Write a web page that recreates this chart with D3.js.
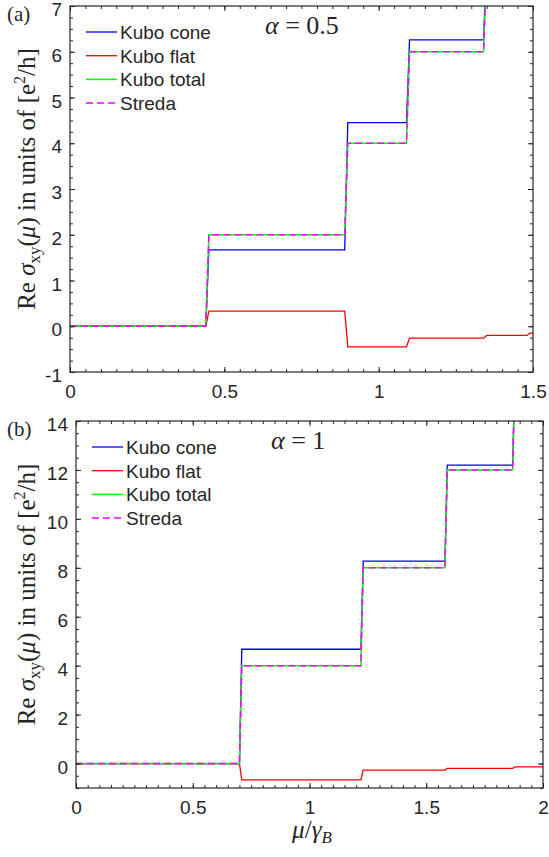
<!DOCTYPE html>
<html>
<head>
<meta charset="utf-8">
<script src="https://cdnjs.cloudflare.com/ajax/libs/d3/7.8.5/d3.min.js"></script>
<style>
  body { margin: 0; background: #fff; }
</style>
</head>
<body>
<div id="chart"></div>
<script>
// legend entries and their colours
var seriesNames = ["Kubo cone", "Kubo flat", "Kubo total", "Streda"];
var seriesColors = ["#0000ff", "#ff0000", "#00ff00", "#ff00ff"];

// panel (a), alpha = 0.5
var muA     = [0, 0.44, 0.45, 0.89, 0.90, 1.09, 1.10, 1.34, 1.35, 1.48, 1.49, 1.5];
var coneA   = [0, 0, 1.67, 1.67, 4.45, 4.45, 6.26, 6.26, 8.2, 8.2, 10.15, 10.15];
var flatA   = [0, 0, 0.33, 0.33, -0.45, -0.45, -0.26, -0.26, -0.2, -0.2, -0.15, -0.15];
var totalA  = [0, 0, 2, 2, 4, 4, 6, 6, 8, 8, 10, 10];
var stredaA = [0, 0, 2, 2, 4, 4, 6, 6, 8, 8, 10, 10];
var xTicksA = [0, 0.5, 1, 1.5];
var yTicksA = [-1, 0, 1, 2, 3, 4, 5, 6, 7];

// panel (b), alpha = 1
var muB     = [0, 0.70, 0.71, 1.22, 1.23, 1.58, 1.59, 1.87, 1.88, 2];
var coneB   = [0, 0, 4.67, 4.67, 8.27, 8.27, 12.2, 12.2, 16.14, 16.14];
var flatB   = [0, 0, -0.67, -0.67, -0.27, -0.27, -0.2, -0.2, -0.14, -0.14];
var totalB  = [0, 0, 4, 4, 8, 8, 12, 12, 16, 16];
var stredaB = [0, 0, 4, 4, 8, 8, 12, 12, 16, 16];
var xTicksB = [0, 0.5, 1, 1.5, 2];
var yTicksB = [0, 2, 4, 6, 8, 10, 12, 14];

var svgWidth = 549;
var svgHeight = 857;
var axisColor = "#262626";
var sansFont = "'Liberation Sans', Arial, Helvetica, sans-serif";
var serifFont = "'Liberation Serif', 'Times New Roman', serif";

var svg = d3.select("#chart")
  .append("svg")
  .attr("width", svgWidth)
  .attr("height", svgHeight)
  .style("color", axisColor);

var panels = [
  { id: "a", tag: "(a)", alpha: "0.5", left: 70, right: 533, top: 6, bottom: 372,
    xDomain: [0, 1.5], yDomain: [-1, 7], xTicks: xTicksA, yTicks: yTicksA,
    xMinor: 0.05, yMinor: 0.25,
    mu: muA, series: [coneA, flatA, totalA, stredaA] },
  { id: "b", tag: "(b)", alpha: "1", left: 76, right: 543, top: 421, bottom: 788,
    xDomain: [0, 2], yDomain: [-1, 14], xTicks: xTicksB, yTicks: yTicksB,
    xMinor: 0.05, yMinor: 0.5,
    mu: muB, series: [coneB, flatB, totalB, stredaB] }
];

panels.forEach(drawPanel);

// x axis label, only under the lower panel
var xl = svg.append("text")
  .attr("x", 312)
  .attr("y", 838)
  .attr("text-anchor", "middle")
  .attr("font-family", serifFont)
  .attr("font-size", 25)
  .attr("fill", axisColor);
xl.append("tspan").attr("font-style", "italic").text("μ");
xl.append("tspan").text("/");
xl.append("tspan").attr("font-style", "italic").text("γ");
xl.append("tspan").attr("font-style", "italic").attr("font-size", 17).attr("dy", 5).text("B");

function drawPanel(p) {
  var g = svg.append("g");

  var x = d3.scaleLinear().domain(p.xDomain).range([p.left, p.right]);
  var y = d3.scaleLinear().domain(p.yDomain).range([p.bottom, p.top]);

  g.append("clipPath")
    .attr("id", "clip-" + p.id)
    .append("rect")
    .attr("x", p.left)
    .attr("y", p.top)
    .attr("width", p.right - p.left)
    .attr("height", p.bottom - p.top);

  // curves
  var line = d3.line()
    .x((d, i) => x(p.mu[i]))
    .y(d => y(d));

  var plot = g.append("g").attr("clip-path", "url(#clip-" + p.id + ")");
  p.series.forEach(function(vals, k) {
    plot.append("path")
      .datum(vals)
      .attr("d", line)
      .attr("fill", "none")
      .attr("stroke", seriesColors[k])
      .attr("stroke-width", k >= 2 ? 1.5 : 1.3)
      .attr("stroke-dasharray", k == 3 ? "7,4" : null);
  });

  // minor ticks
  var xMinorVals = d3.range(p.xDomain[0], p.xDomain[1] + 1e-9, p.xMinor);
  var yMinorVals = d3.range(p.yDomain[0], p.yDomain[1] + 1e-9, p.yMinor);

  g.append("g").attr("transform", `translate(0,${p.bottom})`)
    .call(d3.axisBottom(x).tickValues(xMinorVals).tickSizeInner(-3).tickSizeOuter(0).tickFormat(""))
    .call(a => a.select(".domain").remove());
  g.append("g").attr("transform", `translate(0,${p.top})`)
    .call(d3.axisTop(x).tickValues(xMinorVals).tickSizeInner(-3).tickSizeOuter(0).tickFormat(""))
    .call(a => a.select(".domain").remove());
  g.append("g").attr("transform", `translate(${p.left},0)`)
    .call(d3.axisLeft(y).tickValues(yMinorVals).tickSizeInner(-3).tickSizeOuter(0).tickFormat(""))
    .call(a => a.select(".domain").remove());
  g.append("g").attr("transform", `translate(${p.right},0)`)
    .call(d3.axisRight(y).tickValues(yMinorVals).tickSizeInner(-3).tickSizeOuter(0).tickFormat(""))
    .call(a => a.select(".domain").remove());

  // major ticks with labels
  g.append("g").attr("transform", `translate(0,${p.bottom})`)
    .call(d3.axisBottom(x).tickValues(p.xTicks).tickSizeInner(-5).tickSizeOuter(0)
      .tickPadding(13).tickFormat(d => String(d)))
    .call(a => a.select(".domain").remove())
    .attr("font-size", 19)
    .attr("font-family", sansFont);
  g.append("g").attr("transform", `translate(${p.left},0)`)
    .call(d3.axisLeft(y).tickValues(p.yTicks).tickSizeInner(-5).tickSizeOuter(0)
      .tickPadding(8).tickFormat(d => String(d)))
    .call(a => a.select(".domain").remove())
    .call(a => a.selectAll("text").attr("dy", "0.5em"))
    .attr("font-size", 19)
    .attr("font-family", sansFont);
  g.append("g").attr("transform", `translate(0,${p.top})`)
    .call(d3.axisTop(x).tickValues(p.xTicks).tickSizeInner(-5).tickSizeOuter(0).tickFormat(""))
    .call(a => a.select(".domain").remove());
  g.append("g").attr("transform", `translate(${p.right},0)`)
    .call(d3.axisRight(y).tickValues(p.yTicks).tickSizeInner(-5).tickSizeOuter(0).tickFormat(""))
    .call(a => a.select(".domain").remove());

  g.selectAll(".tick line").attr("stroke-width", 1);

  // box
  g.append("rect")
    .attr("x", p.left)
    .attr("y", p.top)
    .attr("width", p.right - p.left)
    .attr("height", p.bottom - p.top)
    .attr("fill", "none")
    .attr("stroke", axisColor)
    .attr("stroke-width", 1.2);

  // legend
  var leg = g.append("g");
  seriesNames.forEach(function(name, k) {
    var ly = p.top + 26 + k * 23.7;
    leg.append("line")
      .attr("x1", p.left + 16).attr("x2", p.left + 47)
      .attr("y1", ly).attr("y2", ly)
      .attr("stroke", seriesColors[k])
      .attr("stroke-width", k >= 2 ? 1.5 : 1.3)
      .attr("stroke-dasharray", k == 3 ? "7,4" : null);
    leg.append("text")
      .attr("x", p.left + 50)
      .attr("y", ly + 7)
      .attr("font-family", sansFont)
      .attr("font-size", 19)
      .attr("fill", axisColor)
      .text(name);
  });

  // alpha annotation
  var at = g.append("text")
    .attr("x", p.left + 195)
    .attr("y", p.top + 28)
    .attr("font-family", serifFont)
    .attr("font-size", 26)
    .attr("fill", axisColor);
  at.append("tspan").attr("font-style", "italic").text("α");
  at.append("tspan").text(" = " + p.alpha);

  // panel tag
  g.append("text")
    .attr("x", 7)
    .attr("y", p.top + 15)
    .attr("font-family", serifFont)
    .attr("font-size", 21)
    .attr("fill", axisColor)
    .text(p.tag);

  // y axis label
  var yl = g.append("text")
    .attr("transform", `translate(35,${(p.top + p.bottom) / 2 - 10}) rotate(-90)`)
    .attr("text-anchor", "middle")
    .attr("font-family", serifFont)
    .attr("font-size", 25)
    .attr("fill", axisColor);
  yl.append("tspan").text("Re ");
  yl.append("tspan").attr("font-style", "italic").text("σ");
  yl.append("tspan").attr("font-size", 17).attr("dy", 5).text("xy");
  yl.append("tspan").attr("dy", -5).text("(");
  yl.append("tspan").attr("font-style", "italic").text("μ");
  yl.append("tspan").text(") in units of [e");
  yl.append("tspan").attr("font-size", 16).attr("dy", -10).text("2");
  yl.append("tspan").attr("dy", 10).text("/h]");
}
</script>
</body>
</html>
